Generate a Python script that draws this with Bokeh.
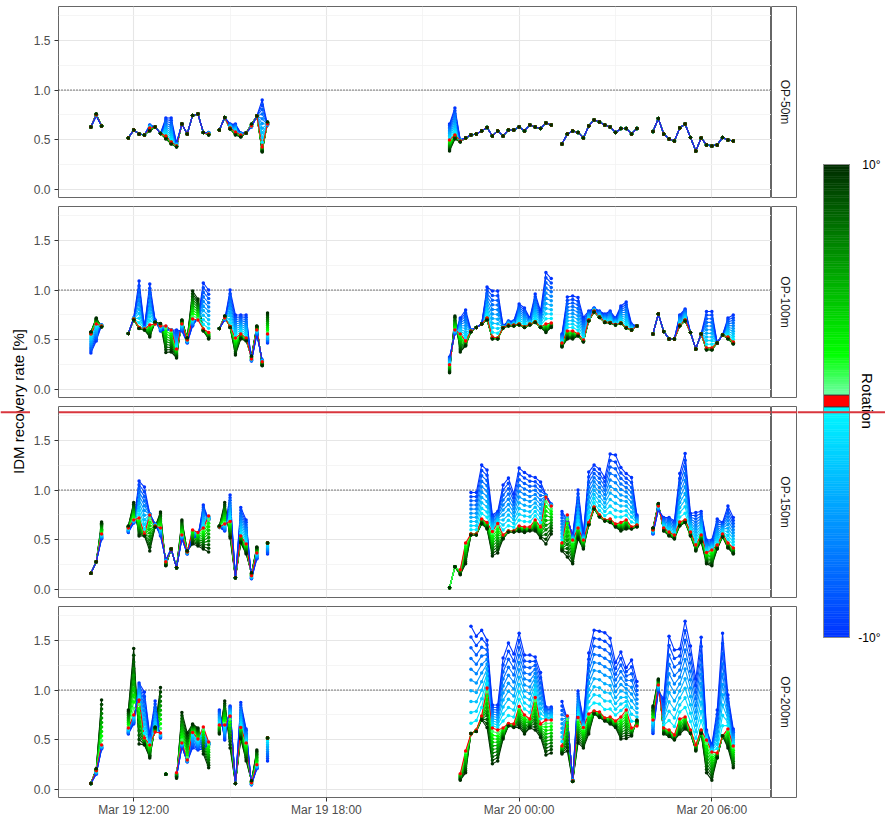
import numpy as np
import pandas as pd
from bokeh.plotting import figure
from bokeh.layouts import row, column
from bokeh.models import (Range1d, FixedTicker, Span, Label, Grid,
                          NumeralTickFormatter, DatetimeTickFormatter)
from bokeh.embed import file_html
from bokeh.resources import INLINE

# ---------------------------------------------------------------- data
panel_names = ["OP-50m", "OP-100m", "OP-150m", "OP-200m"]
rotations = list(range(-10, 11))  # degrees

# 10-minute sampling, six measurement blocks
seg_start = ["2021-03-19 10:40", "2021-03-19 11:50", "2021-03-19 14:40",
             "2021-03-19 21:50", "2021-03-20 01:20", "2021-03-20 04:10"]
seg_count = [3, 16, 10, 20, 15, 16]

x_major = ["2021-03-19 12:00", "2021-03-19 18:00", "2021-03-20 00:00", "2021-03-20 06:00"]
x_minor = ["2021-03-19 15:00", "2021-03-19 21:00", "2021-03-20 03:00"]
x_view = ["2021-03-19 09:39:30", "2021-03-20 07:51:24"]
y_ticks = [0.0, 0.5, 1.0, 1.5]
y_minor = [0.25, 0.75, 1.25, 1.75]
y_view = [-0.077, 1.837]
cbar_ticks = [10, -10]
cbar_labels = ["10°", "-10°"]

# values at rotation 0 (zero), -10 deg (neg) and +10 deg (pos); None = missing
p1_zero = [0.63, 0.75, 0.64,
           0.52, 0.60, 0.56, 0.55, 0.62, 0.63, 0.565, 0.54, 0.48, 0.44, 0.66, 0.56, 0.745, 0.76, 0.575, 0.56,
           0.60, 0.725, 0.62, 0.58, 0.55, 0.57, 0.64, 0.74, 0.43, 0.66,
           0.50, 0.55, 0.49, 0.52, 0.55, 0.56, 0.59, 0.624, 0.54, 0.59, 0.54, 0.60, 0.60, 0.63, 0.59, 0.65, 0.63, 0.615, 0.67, 0.65,
           0.46, 0.56, 0.59, 0.575, 0.52, 0.64, 0.70, 0.68, 0.65, 0.63, 0.575, 0.615, 0.615, 0.56, 0.615,
           0.585, 0.715, 0.56, 0.51, 0.49, 0.62, 0.66, 0.525, 0.39, 0.52, 0.45, 0.44, 0.45, 0.525, 0.50, 0.49]
p1_neg = [0.63, 0.74, 0.64,
          0.52, 0.60, 0.56, 0.55, 0.65, 0.63, 0.565, 0.72, 0.72, 0.47, 0.66, 0.56, 0.745, 0.76, 0.575, 0.575,
          0.60, 0.725, 0.66, 0.66, 0.57, 0.57, 0.63, 0.74, 0.90, 0.65,
          0.66, 0.82, 0.50, 0.52, 0.55, 0.56, 0.59, 0.624, 0.54, 0.59, 0.54, 0.60, 0.60, 0.63, 0.59, 0.65, 0.63, 0.615, 0.67, 0.65,
          0.46, 0.56, 0.59, 0.575, 0.52, 0.64, 0.70, 0.68, 0.65, 0.63, 0.575, 0.615, 0.615, 0.56, 0.615,
          0.585, 0.715, 0.56, 0.51, 0.49, 0.62, 0.66, 0.525, 0.39, 0.52, 0.45, 0.44, 0.45, 0.525, 0.50, 0.49]
p1_pos = [0.63, 0.76, 0.64,
          0.52, 0.60, 0.56, 0.55, 0.59, 0.63, 0.565, 0.51, 0.46, 0.43, 0.66, 0.56, 0.745, 0.76, 0.575, 0.55,
          0.60, 0.725, 0.61, 0.55, 0.53, 0.57, 0.66, 0.74, 0.38, 0.68,
          0.39, 0.51, 0.48, 0.52, 0.55, 0.56, 0.59, 0.624, 0.54, 0.59, 0.54, 0.60, 0.60, 0.63, 0.59, 0.65, 0.63, 0.615, 0.67, 0.65,
          0.46, 0.56, 0.59, 0.575, 0.52, 0.64, 0.70, 0.68, 0.65, 0.63, 0.575, 0.615, 0.615, 0.56, 0.615,
          0.585, 0.715, 0.56, 0.51, 0.49, 0.62, 0.66, 0.525, 0.39, 0.52, 0.45, 0.44, 0.45, 0.525, 0.50, 0.49]
p1_breaks = []

p2_zero = [0.56, 0.66, 0.64,
           0.565, 0.71, 0.625, 0.61, 0.65, 0.66, 0.64, 0.64, 0.60, 0.41, 0.66, 0.50, 0.71, 0.70, 0.61, 0.575,
           0.615, 0.72, 0.635, 0.52, 0.56, 0.52, 0.31, 0.60, 0.28, 0.56,
           0.25, 0.60, 0.56, 0.49, 0.59, 0.625, 0.66, 0.72, 0.53, 0.52, 0.625, 0.65, 0.65, 0.66, 0.63, 0.66, 0.68, 0.63, 0.66, 0.67,
           0.47, 0.59, 0.59, 0.56, 0.50, 0.70, 0.79, 0.73, 0.68, 0.675, 0.655, 0.67, 0.625, 0.60, 0.64,
           0.56, 0.76, 0.585, 0.51, 0.51, 0.65, 0.70, 0.575, 0.41, 0.56, 0.42, 0.42, 0.47, 0.55, 0.53, 0.48]
p2_neg = [0.37, 0.49, 0.65,
          0.565, 0.72, 1.09, 0.63, 1.06, 0.70, 0.59, 0.60, 0.60, 0.60, 0.59, 0.47, 0.64, 0.72, 1.07, 1.00,
          0.615, 0.70, 1.00, 0.75, 0.75, 0.75, 0.29, 0.55, 0.30, 0.47,
          0.33, 0.56, 0.72, 0.80, 0.60, 0.625, 0.66, 1.03, 0.99, 0.99, 0.64, 0.69, 0.69, 0.86, 0.82, 0.72, 0.96, 0.79, 1.175, 1.115,
          0.56, 0.93, 0.94, 0.925, 0.725, 0.79, 0.82, 0.79, 0.76, 0.79, 0.72, 0.84, 0.88, 0.66, 0.64,
          0.56, 0.76, 0.585, 0.51, 0.51, 0.75, 0.81, 0.575, 0.41, 0.56, 0.785, 0.785, 0.47, 0.55, 0.72, 0.75]
p2_pos = [0.58, 0.72, 0.63,
          0.565, 0.70, 0.615, 0.60, 0.53, 0.68, 0.665, 0.375, 0.38, 0.32, 0.70, 0.52, 0.99, 0.91, 0.59, 0.51,
          0.615, 0.74, 0.625, 0.35, 0.51, 0.49, 0.34, 0.64, 0.24, 0.77,
          0.17, 0.74, 0.38, 0.44, 0.58, 0.625, 0.66, 0.70, 0.51, 0.51, 0.62, 0.64, 0.64, 0.65, 0.625, 0.65, 0.675, 0.625, 0.575, 0.625,
          0.43, 0.51, 0.51, 0.54, 0.48, 0.69, 0.78, 0.725, 0.675, 0.67, 0.65, 0.665, 0.62, 0.60, 0.64,
          0.56, 0.76, 0.585, 0.51, 0.51, 0.64, 0.69, 0.575, 0.41, 0.56, 0.40, 0.40, 0.47, 0.55, 0.51, 0.46]
p2_breaks = ["2021-03-19 16:00"]

p3_zero = [0.167, 0.28, 0.56,
           0.62, 0.70, 0.72, 0.56, 0.75, 0.64, 0.62, 0.28, 0.41, 0.22, 0.55, 0.38, 0.60, 0.575, 0.62, 0.74,
           0.63, 0.66, 0.685, 0.12, 0.54, 0.46, 0.14, 0.37, None, 0.47,
           None, None, 0.20, 0.47, 0.56, 0.56, 0.71, 0.675, 0.585, 0.665, 0.55, 0.59, 0.59, 0.64, 0.63, 0.63, 0.70, 0.63, 0.93, 0.84,
           0.47, 0.75, 0.50, 0.62, 0.50, 0.675, 0.83, 0.75, 0.70, 0.71, 0.66, 0.675, 0.70, 0.63, 0.65,
           0.60, 0.84, 0.62, 0.58, 0.55, 0.68, 0.70, 0.58, 0.45, 0.55, 0.375, 0.40, 0.45, 0.56, 0.47, 0.42]
p3_neg = [0.167, 0.28, 0.51,
          0.575, 0.67, 1.09, 1.03, 0.76, 0.66, 0.54, 0.30, 0.41, 0.22, 0.51, 0.36, 0.52, 0.53, 0.85, 0.70,
          0.625, 0.59, 0.95, 0.12, 0.825, 0.70, 0.11, 0.31, None, 0.36,
          None, None, None, None, 0.975, 0.975, 1.25, 1.20, 0.75, 0.785, 1.05, 1.12, 0.96, 1.22, 1.175, 1.14, 1.125, 1.08, 0.95, 0.86,
          0.785, 0.70, 0.55, 1.00, 0.56, 1.18, 1.25, 1.21, 1.125, 1.36, 1.35, 1.225, 1.165, 1.125, 0.75,
          0.56, 0.80, 0.725, 0.725, 0.69, 1.165, 1.365, 0.765, 0.775, 0.785, 0.50, 0.50, 0.71, 0.675, 0.84, 0.725]
p3_pos = [0.167, 0.28, 0.68,
          0.64, 0.875, 0.54, 0.54, 0.39, 0.63, 0.78, 0.24, 0.41, 0.22, 0.70, 0.39, 0.46, 0.44, 0.41, 0.38,
          0.64, 0.875, 0.52, 0.12, 0.47, 0.36, 0.17, 0.43, None, 0.47,
          0.02, 0.23, 0.15, 0.26, 0.55, 0.55, 0.66, 0.61, 0.34, 0.37, 0.51, 0.58, 0.58, 0.585, 0.575, 0.59, 0.59, 0.52, 0.46, 0.56,
          0.39, 0.33, 0.26, 0.51, 0.41, 0.65, 0.81, 0.73, 0.69, 0.675, 0.63, 0.59, 0.61, 0.61, 0.63,
          0.62, 0.865, 0.59, 0.54, 0.51, 0.64, 0.675, 0.54, 0.39, 0.48, 0.26, 0.24, 0.41, 0.53, 0.42, 0.36]
p3_breaks = []

p4_zero = [0.063, 0.19, 0.45,
           0.62, 0.75, 0.90, 0.52, 0.45, 0.58, 0.57, None, None, 0.17, 0.47, 0.30, 0.575, 0.51, 0.63, 0.48,
           0.65, 0.65, 0.74, 0.063, 0.625, 0.47, 0.07, 0.25, None, 0.52,
           None, None, 0.16, 0.39, 0.56, 0.60, 0.74, 1.02, 0.62, 0.60, 0.62, 0.665, 0.66, 0.835, 0.75, 0.71, 0.925, 0.66, 0.70, 0.70,
           0.44, 0.74, 0.09, 0.725, 0.625, 0.76, 0.79, 0.78, 0.72, 0.73, 0.69, 0.73, 0.80, 0.62, 0.64,
           0.70, 1.05, 0.62, 0.60, 0.55, 0.71, 0.73, 0.60, 0.45, 0.60, 0.50, 0.38, 0.37, 0.54, 0.61, 0.44]
p4_neg = [0.063, 0.157, 0.41,
          0.56, 0.66, 1.07, 0.98, 0.55, 0.89, 0.52, None, None, 0.13, 0.43, 0.28, 0.42, 0.40, 0.41, 0.45,
          0.80, 0.50, 0.84, 0.063, 0.875, 0.61, 0.05, 0.21, None, 0.29,
          None, None, None, None, 1.64, 1.54, 1.60, 1.50, 0.85, 0.85, 1.32, 1.47, 1.36, 1.57, 1.35, 1.35, 1.33, 1.175, 0.83, 0.83,
          0.885, 0.71, 0.10, 0.99, 0.70, 1.37, 1.60, 1.59, 1.575, 1.52, 1.275, 1.38, 1.225, 1.30, 1.085,
          0.565, 0.99, 0.915, 1.54, 1.40, 1.41, 1.69, 1.44, 1.11, 1.53, 0.60, 0.45, 0.80, 1.57, 0.95, 0.61]
p4_pos = [0.063, 0.21, 0.90,
          0.80, 1.415, 0.46, 0.45, 0.32, 0.63, 1.025, 0.157, None, 0.115, 0.775, 0.57, 0.66, 0.62, 0.36, 0.22,
          0.56, 0.89, 0.42, 0.063, 0.51, 0.29, 0.09, 0.40, None, 0.52,
          None, None, 0.097, 0.17, 0.565, 0.585, 0.70, 0.625, 0.26, 0.29, 0.51, 0.64, 0.625, 0.625, 0.56, 0.62, 0.60, 0.525, 0.35, 0.37,
          0.36, 0.39, 0.083, 0.47, 0.42, 0.56, 0.76, 0.725, 0.69, 0.66, 0.625, 0.51, 0.515, 0.54, 0.70,
          0.84, 1.11, 0.56, 0.535, 0.50, 0.56, 0.61, 0.565, 0.39, 0.565, 0.17, 0.097, 0.32, 0.54, 0.42, 0.22]
p4_breaks = ["2021-03-19 12:50"]

# colour scale stops (fraction of |rotation| / 10)
neg_color_stops = [(0.0, "#00ffff"), (1.0, "#0033ff")]
pos_color_stops = [(0.0, "#80ffbf"), (0.2, "#00ff00"), (1.0, "#002d00")]
zero_color = "#ff0000"

# ---------------------------------------------------------------- helpers
FONT = "Liberation Sans"


def ms(s):
    return pd.Timestamp(s).value / 1e6


times, seg_id = [], []
for k, (s, n) in enumerate(zip(seg_start, seg_count)):
    for t in pd.date_range(s, periods=n, freq="10min"):
        times.append(t.value / 1e6)
        seg_id.append(k)


def _rgb(h):
    return [int(h[i:i + 2], 16) for i in (1, 3, 5)]


def color_for(r):
    if r == 0:
        return zero_color
    stops = neg_color_stops if r < 0 else pos_color_stops
    f = min(abs(r) / 10.0, 1.0)
    for (f0, c0), (f1, c1) in zip(stops, stops[1:]):
        if f0 <= f <= f1:
            a = (f - f0) / (f1 - f0)
            c0, c1 = _rgb(c0), _rgb(c1)
            c = [round(c0[j] + a * (c1[j] - c0[j])) for j in range(3)]
            return "#%02x%02x%02x" % tuple(c)
    return stops[-1][1]


def build(zero, neg, pos, brk):
    assert len(zero) == len(neg) == len(pos) == len(times), (len(zero), len(neg), len(pos))
    brk_ms = {ms(b) for b in brk}
    out = {}
    for r in rotations:
        f = abs(r) / 10.0
        xs, ys = [], []
        for i, t in enumerate(times):
            if i > 0 and (seg_id[i] != seg_id[i - 1] or times[i - 1] in brk_ms):
                xs.append(np.nan)
                ys.append(np.nan)
            z = zero[i]
            e = neg[i] if r < 0 else pos[i]
            if r == 0:
                v = z
            elif e is None:
                v = None
            elif z is None:
                v = e
            else:
                v = z + f * (e - z)
            xs.append(t)
            ys.append(np.nan if v is None else v)
        out[r] = (np.array(xs, dtype=float), np.array(ys, dtype=float))
    return out


# drawing order: lines end with 0 then -10 (blue on top where all coincide,
# red visible in fans); points end with 0 then +10 (dark green on top)
line_order = [r for r in rotations[::-1] if r not in (0, -10)] + [0, -10]
point_order = [r for r in rotations if r not in (0, 10)] + [0, 10]

# ---------------------------------------------------------------- layout (page pixels)
RED_Y_PAGE = 411.7
RED = "#d9363e"
FRAME_H = 191
TOP_B = [6, 0, 0, 0]
BOT_B = [9, 9, 9, 24]
LEFT = 27
FRAME_W = 714
STRIP_W = 26
YT_W = 30
CB_W = 88
CB_TOP_PAGE = 164
CB_BOT_PAGE = 637
CB_BAR = (26, 52)  # bar position inside legend canvas


def add_red(fig, frame_top_page, frame_h, lo, hi):
    if frame_top_page <= RED_Y_PAGE <= frame_top_page + frame_h:
        loc = hi - (RED_Y_PAGE - frame_top_page) / frame_h * (hi - lo)
        fig.add_layout(Span(location=loc, dimension="width", line_color=RED,
                            line_width=2, level="overlay"))


xr = Range1d(ms(x_view[0]), ms(x_view[1]))
panel_data = [(p1_zero, p1_neg, p1_pos, p1_breaks),
              (p2_zero, p2_neg, p2_pos, p2_breaks),
              (p3_zero, p3_neg, p3_pos, p3_breaks),
              (p4_zero, p4_neg, p4_pos, p4_breaks)]

panels, strips = [], []
fig_top = 0
for k, (name, (z, n, po, br)) in enumerate(zip(panel_names, panel_data)):
    bottom = (k == len(panel_names) - 1)
    tb, bb = TOP_B[k], BOT_B[k]
    h = tb + FRAME_H + bb
    p = figure(width=LEFT + FRAME_W, height=h, x_axis_type="datetime", x_range=xr,
               y_range=Range1d(y_view[0], y_view[1]),
               x_axis_location="below" if bottom else None, y_axis_location="left",
               output_backend="svg", toolbar_location=None,
               min_border_left=LEFT, min_border_right=0, min_border_top=tb, min_border_bottom=bb)
    p.xgrid.visible = False
    p.ygrid.visible = False
    p.outline_line_color = "#666666"
    p.outline_line_width = 1
    p.background_fill_color = "white"
    p.border_fill_color = "white"

    p.add_layout(Grid(dimension=0, ticker=FixedTicker(ticks=[ms(t) for t in x_major],
                                                      minor_ticks=[ms(t) for t in x_minor]),
                      grid_line_color="#e6e6e6", grid_line_width=1.1,
                      minor_grid_line_color="#f2f2f2", minor_grid_line_width=0.8))
    p.add_layout(Grid(dimension=1, ticker=FixedTicker(ticks=y_ticks, minor_ticks=y_minor),
                      grid_line_color="#e6e6e6", grid_line_width=1.1,
                      minor_grid_line_color="#f2f2f2", minor_grid_line_width=0.8))
    p.add_layout(Span(location=1.0, dimension="width", line_color="black",
                      line_dash="1 2", line_width=1, level="underlay"))

    ya = p.yaxis[0]
    ya.ticker = FixedTicker(ticks=y_ticks)
    ya.formatter = NumeralTickFormatter(format="0.0")
    ya.axis_line_color = None
    ya.major_tick_out = 4
    ya.major_tick_in = 0
    ya.minor_tick_out = 0
    ya.minor_tick_in = 0
    ya.major_tick_line_color = "#333333"
    ya.major_label_text_font = FONT
    ya.major_label_text_font_size = "12px"
    ya.major_label_text_color = "#4d4d4d"
    ya.major_label_standoff = 4

    if bottom:
        xa = p.xaxis[0]
        xa.ticker = FixedTicker(ticks=[ms(t) for t in x_major])
        fmt = "%b %d %H:%M"
        xa.formatter = DatetimeTickFormatter(microseconds=fmt, milliseconds=fmt, seconds=fmt,
                                             minsec=fmt, minutes=fmt, hourmin=fmt, hours=fmt,
                                             days=fmt, months=fmt, years=fmt)
        xa.axis_line_color = None
        xa.major_tick_out = 4
        xa.major_tick_in = 0
        xa.minor_tick_out = 0
        xa.minor_tick_in = 0
        xa.major_tick_line_color = "#333333"
        xa.major_label_text_font = FONT
        xa.major_label_text_font_size = "12px"
        xa.major_label_text_color = "#4d4d4d"
        xa.major_label_standoff = 1

    lines = build(z, n, po, br)
    ml_x, ml_y, ml_c = [], [], []
    for r in line_order:
        xs, ys = lines[r]
        ml_x.append(xs)
        ml_y.append(ys)
        ml_c.append(color_for(r))
    p.multi_line(xs=ml_x, ys=ml_y, line_color=ml_c, line_width=1.1)
    sx, sy, sc = [], [], []
    for r in point_order:
        xs, ys = lines[r]
        ok = np.isfinite(ys)
        sx.extend(xs[ok].tolist())
        sy.extend(ys[ok].tolist())
        sc.extend([color_for(r)] * int(ok.sum()))
    p.scatter(x=sx, y=sy, color=sc, size=3.5, line_width=0)

    s = figure(width=STRIP_W, height=h, x_range=Range1d(0, 1), y_range=Range1d(0, 1),
               x_axis_location=None, y_axis_location=None,
               output_backend="svg", toolbar_location=None,
               min_border_left=0, min_border_right=0, min_border_top=tb, min_border_bottom=bb)
    s.xgrid.visible = False
    s.ygrid.visible = False
    s.outline_line_color = "#666666"
    s.background_fill_color = "white"
    s.add_layout(Label(x=0.5, y=0.5, text=name, angle=-np.pi / 2, text_align="center",
                       text_baseline="middle", text_font=FONT, text_font_size="12px",
                       text_color="#1a1a1a"))

    frame_top = fig_top + tb
    add_red(p, frame_top, FRAME_H, y_view[0], y_view[1])
    add_red(s, frame_top, FRAME_H, 0, 1)
    fig_top += h

    panels.append(p)
    strips.append(s)

TOTAL_H = fig_top

# y-axis title (frame covers the whole canvas; ranges are pixels)
yt = figure(width=YT_W, height=TOTAL_H, x_range=Range1d(0, YT_W), y_range=Range1d(0, TOTAL_H),
            x_axis_location=None, y_axis_location=None, output_backend="svg",
            toolbar_location=None, min_border=0)
yt.xgrid.visible = False
yt.ygrid.visible = False
yt.outline_line_color = None
yt.add_layout(Label(x=18, y=TOTAL_H - 401, text="IDM recovery rate [%]", angle=np.pi / 2,
                    text_align="center", text_baseline="middle", text_font=FONT,
                    text_font_size="15px", text_color="black"))
add_red(yt, 0, TOTAL_H, 0, TOTAL_H)

# colour bar: frame covers whole canvas, y in degrees of rotation
deg_px = (CB_BOT_PAGE - CB_TOP_PAGE) / 20.0
cb_hi = 10 + CB_TOP_PAGE / deg_px
cb_lo = -10 - (TOTAL_H - CB_BOT_PAGE) / deg_px
cb = figure(width=CB_W, height=TOTAL_H, x_range=Range1d(0, CB_W), y_range=Range1d(cb_lo, cb_hi),
            x_axis_location=None, y_axis_location=None, output_backend="svg",
            toolbar_location=None, min_border=0)
cb.xgrid.visible = False
cb.ygrid.visible = False
cb.outline_line_color = None
levels = np.round(np.arange(-10, 10, 0.1), 3)
lv = [l for l in levels if not (-0.25 < l + 0.05 < 0.25)]
cols = [color_for(l + 0.05) for l in lv]
cb.quad(left=CB_BAR[0], right=CB_BAR[1], bottom=lv, top=[l + 0.1 for l in lv],
        fill_color=cols, line_color=cols, line_width=0.5)
cb.quad(left=[CB_BAR[0]], right=[CB_BAR[1]], bottom=[-0.25], top=[0.25], fill_color=zero_color,
        line_color="#333333", line_width=1)
cb.quad(left=[CB_BAR[0]], right=[CB_BAR[1]], bottom=[-10], top=[10], fill_color=None,
        line_color="#8c8c8c", line_width=1)
for tv, tl in zip(cbar_ticks, cbar_labels):
    cb.add_layout(Label(x=83, y=tv, text=tl, text_align="right",
                        text_baseline="middle", text_font=FONT, text_font_size="12px",
                        text_color="black"))
cb.add_layout(Label(x=70, y=0, text="Rotation", angle=-np.pi / 2,
                    text_align="center", text_baseline="middle", text_font=FONT,
                    text_font_size="15px", text_color="black"))
add_red(cb, 0, TOTAL_H, cb_lo, cb_hi)

layout = row(yt, column(*panels), column(*strips), cb)
open("out.html", "w").write(file_html(layout, INLINE))
